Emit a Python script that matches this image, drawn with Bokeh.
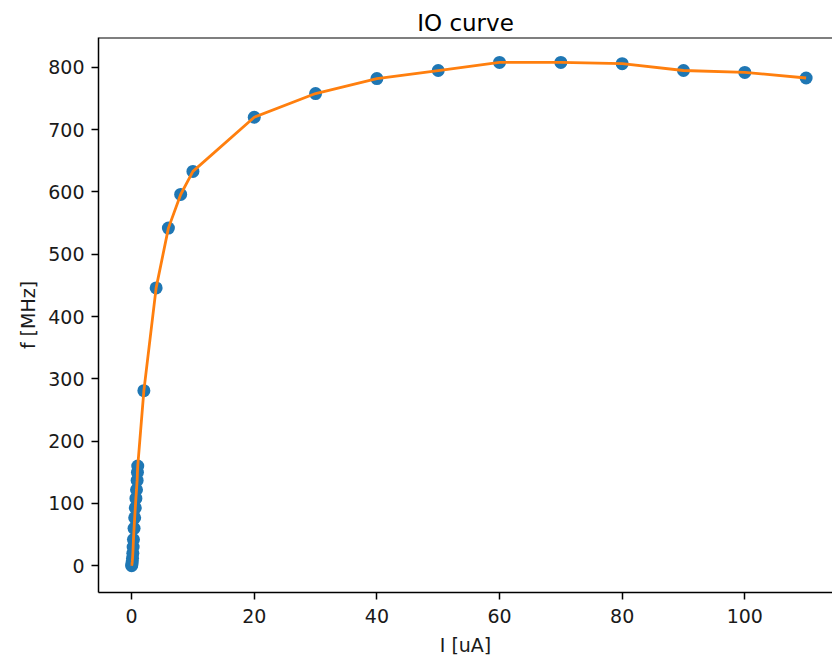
from bokeh.plotting import figure
from bokeh.models import Range1d, FixedTicker, Span
from bokeh.embed import file_html
from bokeh.resources import INLINE

# Input current (uA) and resulting firing frequency (MHz)
current_ua = [0, 0.05, 0.1, 0.15, 0.2, 0.25, 0.3, 0.4, 0.5, 0.6, 0.7, 0.8, 0.9, 0.95, 1.0,
              2, 4, 6, 8, 10, 20, 30, 40, 50, 60, 70, 80, 90, 100, 110]
freq_mhz = [0, 2, 6, 12, 20, 30, 42, 60, 77, 93, 108, 122, 137, 150, 160,
            281, 446, 542, 596, 633, 720, 758, 782, 795, 808, 808, 806, 795, 792, 783]

x_ticks = [0, 20, 40, 60, 80, 100]
y_ticks = [0, 100, 200, 300, 400, 500, 600, 700, 800]

FONT = "DejaVu Sans"
X_LO, X_HI = -5.4, 114.3
Y_LO, Y_TOP = -43.0, 848.0

p = figure(width=832, height=660, output_backend="svg", toolbar_location=None,
           x_range=Range1d(X_LO, X_HI), y_range=Range1d(Y_LO, Y_TOP),
           min_border_left=98, min_border_right=0, min_border_top=37, min_border_bottom=68)

p.title.text = "IO curve"
p.title.align = "center"
p.title.vertical_align = "top"
p.title.standoff = 0
p.title.offset = 3
p.title.text_line_height = 0.6
p.title.text_font = FONT
p.title.text_font_size = "23px"
p.title.text_font_style = "normal"
p.title.text_color = "black"

p.grid.visible = False
p.outline_line_color = None
p.background_fill_color = "white"
p.border_fill_color = "white"

# top spine
p.add_layout(Span(location=Y_TOP, dimension="width", line_color="black", line_width=2))

for ax in (p.xaxis[0], p.yaxis[0]):
    ax.axis_line_color = "black"
    ax.axis_line_width = 1.5
    ax.major_tick_line_color = "black"
    ax.major_tick_line_width = 1.5
    ax.major_tick_out = 7
    ax.major_tick_in = 0
    ax.minor_tick_line_color = None
    ax.major_label_text_font = FONT
    ax.major_label_text_font_size = "19px"
    ax.major_label_text_color = "#1a1a1a"
    ax.axis_label_text_font = FONT
    ax.axis_label_text_font_size = "19px"
    ax.axis_label_text_font_style = "normal"
    ax.axis_label_text_color = "#1a1a1a"

p.xaxis.ticker = FixedTicker(ticks=x_ticks)
p.yaxis.ticker = FixedTicker(ticks=y_ticks)
p.xaxis.axis_label = "I [uA]"
p.yaxis.axis_label = "f [MHz]"
p.xaxis.major_label_standoff = 9
p.yaxis.major_label_standoff = 7
p.xaxis.axis_label_standoff = 8
p.yaxis.axis_label_standoff = 6

p.scatter(current_ua, freq_mhz, size=13, color="#1f77b4", line_color=None)
p.line(current_ua, freq_mhz, line_color="#ff7f0e", line_width=2.8)

open("out.html", "w").write(file_html(p, INLINE))
